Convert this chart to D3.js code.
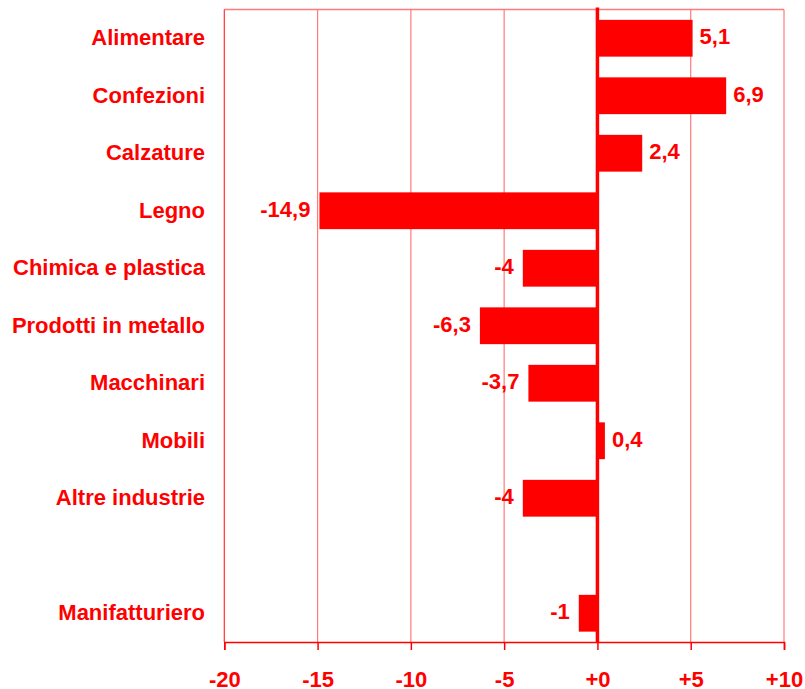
<!DOCTYPE html>
<html>
<head>
<meta charset="utf-8">
<script src="https://cdn.jsdelivr.net/npm/d3@7"></script>
<style>
  html, body { margin: 0; padding: 0; background: #fff; }
  svg { display: block; }
  text { font-family: "Liberation Sans", Arial, sans-serif; font-weight: bold; fill: #ff0000; }
</style>
</head>
<body>
<svg id="chart" width="805" height="689"></svg>
<script>
// Categories ("" is the empty gap row before the total)
const categories = ["Alimentare", "Confezioni", "Calzature", "Legno", "Chimica e plastica",
  "Prodotti in metallo", "Macchinari", "Mobili", "Altre industrie", "", "Manifatturiero"];
const values = [5.1, 6.9, 2.4, -14.9, -4, -6.3, -3.7, 0.4, -4, null, -1];
const tickValues = [-20, -15, -10, -5, 0, 5, 10];
const tickLabels = ["-20", "-15", "-10", "-5", "+0", "+5", "+10"];

(function () {
const svg = d3.select("#chart");
const pLeft = 224.3, pRight = 784, pTop = 9.5, pBottom = 642;
const red = "#ff0000", grid = "#ff7a7a";

const x = d3.scaleLinear().domain([-20, 10]).range([pLeft, pRight]);
const keys = categories.map((c, i) => "k" + i);
const y = d3.scaleBand().domain(keys).range([pTop, pBottom]).paddingInner(0.36).paddingOuter(0.18);

const data = categories.map((c, i) => ({ key: keys[i], name: c, value: values[i] }));

// vertical gridlines
svg.append("g").selectAll("line").data(tickValues.filter(t => t !== 0 && t !== -20))
  .enter().append("line")
  .attr("x1", d => x(d)).attr("x2", d => x(d))
  .attr("y1", pTop).attr("y2", pBottom)
  .attr("stroke", grid).attr("stroke-width", 1.2);

// top frame
svg.append("line").attr("x1", pLeft).attr("x2", pRight).attr("y1", pTop).attr("y2", pTop)
  .attr("stroke", grid).attr("stroke-width", 1.5);
// left frame
svg.append("line").attr("x1", pLeft).attr("x2", pLeft).attr("y1", pTop).attr("y2", pBottom)
  .attr("stroke", "#ff3030").attr("stroke-width", 1.2);

// bars
const valid = data.filter(d => d.value !== null);
svg.append("g").selectAll("rect").data(valid).enter().append("rect")
  .attr("x", d => x(Math.min(0, d.value)))
  .attr("width", d => Math.abs(x(d.value) - x(0)))
  .attr("y", d => y(d.key))
  .attr("height", y.bandwidth())
  .attr("fill", red);

// bottom axis
const axis = d3.axisBottom(x).tickValues(tickValues).tickSize(8)
  .tickFormat((d, i) => tickLabels[i]);
const ag = svg.append("g").attr("transform", `translate(0,${pBottom})`).call(axis);
ag.select(".domain").attr("stroke", red).attr("stroke-width", 1.5);
ag.selectAll(".tick line").attr("stroke", red).attr("stroke-width", 1.5);
ag.selectAll(".tick text").attr("y", 45).attr("dy", 0)
  .style("font-size", "22px").attr("fill", red);

// zero line
svg.append("line").attr("x1", x(0)).attr("x2", x(0)).attr("y1", pTop - 2).attr("y2", pBottom)
  .attr("stroke", red).attr("stroke-width", 3.5);

// category labels
svg.append("g").selectAll("text").data(data.filter(d => d.name !== "")).enter().append("text")
  .attr("x", 205)
  .attr("y", d => y(d.key) + y.bandwidth() / 2 + 7)
  .attr("text-anchor", "end")
  .style("font-size", "22px")
  .text(d => d.name);

// value labels
svg.append("g").selectAll("text").data(valid).enter().append("text")
  .attr("x", d => d.value >= 0 ? x(d.value) + 7 : x(d.value) - 9)
  .attr("y", d => y(d.key) + y.bandwidth() / 2 + 6)
  .attr("text-anchor", d => d.value >= 0 ? "start" : "end")
  .style("font-size", "22px")
  .text(d => String(d.value).replace(".", ","));
})();
</script>
</body>
</html>
